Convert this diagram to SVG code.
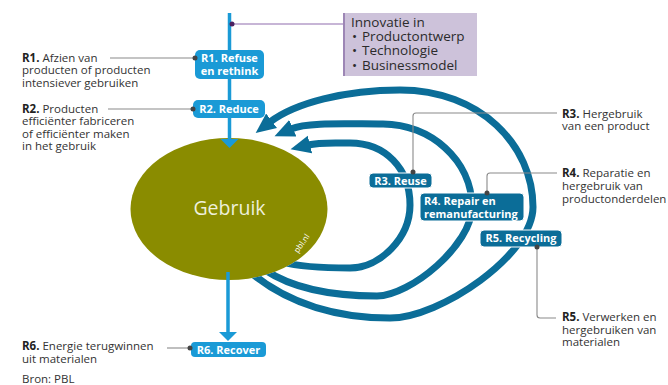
<svg xmlns="http://www.w3.org/2000/svg" width="668" height="385" viewBox="0 0 668 385">
<style>
text{font-family:"Open Sans","Noto Sans","DejaVu Sans",sans-serif}
.lbl{font-size:11.5px;fill:#333}
.b{font-weight:700;fill:#222}
.bx{font-size:11px;font-weight:700;fill:#fff}
.inno{font-size:13.5px;fill:#2b2b2b}
.ring{fill:none;stroke:#0b6d98;stroke-width:7;marker-end:url(#arrTeal)}
.flow{fill:none;stroke:#1a9ad6;stroke-width:3.5;marker-end:url(#arrBlue)}
.lead{fill:none;stroke:#8a8a8a;stroke-width:1.1}
.dot{fill:#444}
.lbox{fill:#1a9ad6}
.dbox{fill:#0b6d98;stroke:#ffffff;stroke-width:1}
</style>
<defs>
<marker id="arrTeal" markerUnits="userSpaceOnUse" viewBox="0 0 22 20" markerWidth="22" markerHeight="20" refX="2" refY="10" orient="auto">
<path d="M0,1 L20,10 L0,19 Z" fill="#0b6d98"/>
</marker>
<marker id="arrBlue" markerUnits="userSpaceOnUse" viewBox="0 0 10 20" markerWidth="10" markerHeight="20" refX="1" refY="10" orient="auto">
<path d="M0,1 L9,10 L0,19 Z" fill="#1a9ad6"/>
</marker>
<clipPath id="outsideGebruik">
<path clip-rule="evenodd" d="M0,0 H668 V385 H0 Z M130.5,209 a98.5,71 0 1,0 197,0 a98.5,71 0 1,0 -197,0 Z"/>
</clipPath>
</defs>
<rect width="668" height="385" fill="#fff"/>

<g id="gebruik">
<ellipse cx="229" cy="209" rx="98.5" ry="71" fill="#8a8c00"/>
<text x="229.5" y="215" text-anchor="middle" font-size="19.5" fill="#eef0dc">Gebruik</text>
<text transform="translate(304,245) rotate(-55)" text-anchor="middle" font-size="8" fill="#ffffff">pbl.nl</text>
</g>

<g id="connectors">
<g clip-path="url(#outsideGebruik)">
<path class="ring" d="M250,272 C290,305 340,318 390,318 C440,318 533,255 533,207 C533,145 480,90 400,90 C345,90 295,103 270,122"/>
<path class="ring" d="M265,270 C295,290 335,296 377,296 C410,296 472,245 472,207 C472,160 430,124 383,124 C345,124 307,122 291,129"/>
<path class="ring" d="M282,262 C300,267 325,268 350,268 C380,268 410,238 410,205 C410,168 385,143 350,143 C334,143 320,142 308,145"/>
</g>
<path class="flow" d="M229.5,13 V140"/>
<path class="flow" d="M228,272 V333"/>
<path d="M232,24 H343" fill="none" stroke="#b49cc8" stroke-width="1.5"/>
<circle cx="232" cy="24" r="2.5" fill="#4a2060"/>
</g>

<g id="r1">
<rect class="lbox" x="195" y="50" width="69" height="29" rx="5"/>
<text class="bx" x="229.5" y="62" text-anchor="middle">R1. Refuse<tspan x="229.5" dy="13">en rethink</tspan></text>
</g>
<g id="r2">
<rect class="lbox" x="193" y="100" width="72" height="18" rx="5"/>
<text class="bx" x="229" y="113" text-anchor="middle">R2. Reduce</text>
</g>
<g id="r6">
<rect class="lbox" x="191" y="342" width="75" height="15" rx="4"/>
<text class="bx" x="228.5" y="353.5" text-anchor="middle">R6. Recover</text>
</g>
<g id="r3">
<rect class="dbox" x="369" y="173" width="63" height="15" rx="4"/>
<text class="bx" x="400.5" y="184.5" text-anchor="middle">R3. Reuse</text>
</g>
<g id="r4">
<rect class="dbox" x="420" y="193" width="104" height="28" rx="4"/>
<text class="bx" x="424" y="204.5">R4. Repair en<tspan x="424" dy="13">remanufacturing</tspan></text>
</g>
<g id="r5">
<rect class="dbox" x="480" y="230" width="82" height="17" rx="4"/>
<text class="bx" x="521" y="242" text-anchor="middle">R5. Recycling</text>
</g>

<g id="innovatie">
<rect x="343" y="13" width="134" height="63" fill="#cdc2da"/>
<path d="M344,13 V76" stroke="#9d86b5" stroke-width="2"/>
<text class="inno" x="351" y="26.5">Innovatie in<tspan x="352" dy="14.5">•</tspan><tspan x="362">Productontwerp</tspan><tspan x="352" dy="14">•</tspan><tspan x="362">Technologie</tspan><tspan x="352" dy="14.5">•</tspan><tspan x="362">Businessmodel</tspan></text>
</g>

<g id="connectors-leaders">
<path class="lead" d="M110,58 H195"/>
<circle class="dot" cx="195" cy="58" r="2.5"/>
<path class="lead" d="M108,109 H193"/>
<circle class="dot" cx="193" cy="109" r="2.5"/>
<path class="lead" d="M167,348 H190"/>
<circle class="dot" cx="190" cy="348" r="2.5"/>
<path class="lead" d="M413,172 V116 Q413,113 416,113 H557"/>
<circle class="dot" cx="413" cy="172" r="2.5"/>
<path class="lead" d="M487,193 V176 Q487,173 490,173 H557"/>
<circle class="dot" cx="487" cy="193" r="2.5"/>
<path class="lead" d="M537,247 V315 Q537,318 540,318 H556"/>
<circle class="dot" cx="537" cy="247" r="2.5"/>
</g>

<g id="label-r1">
<text class="lbl" x="22" y="61.5"><tspan class="b">R1.</tspan> Afzien van<tspan x="22" dy="12.5">producten of producten</tspan><tspan x="22" dy="12.5">intensiever gebruiken</tspan></text>
</g>
<g id="label-r2">
<text class="lbl" x="22" y="113"><tspan class="b">R2.</tspan> Producten<tspan x="22" dy="12.3">efficiënter fabriceren</tspan><tspan x="22" dy="12.3">of efficiënter maken</tspan><tspan x="22" dy="12.3">in het gebruik</tspan></text>
</g>
<g id="label-r6">
<text class="lbl" x="22" y="350"><tspan class="b">R6.</tspan> Energie terugwinnen<tspan x="22" dy="12.5">uit materialen</tspan></text>
<text class="lbl" x="22" y="383">Bron: PBL</text>
</g>
<g id="label-r3">
<text class="lbl" x="562" y="118"><tspan class="b">R3.</tspan> Hergebruik<tspan x="562" dy="12.3">van een product</tspan></text>
</g>
<g id="label-r4">
<text class="lbl" x="562" y="177"><tspan class="b">R4.</tspan> Reparatie en<tspan x="562" dy="12.8">hergebruik van</tspan><tspan x="562" dy="12.8">productonderdelen</tspan></text>
</g>
<g id="label-r5">
<text class="lbl" x="562" y="321"><tspan class="b">R5.</tspan> Verwerken en<tspan x="562" dy="12.7">hergebruiken van</tspan><tspan x="562" dy="12.3">materialen</tspan></text>
</g>
</svg>
